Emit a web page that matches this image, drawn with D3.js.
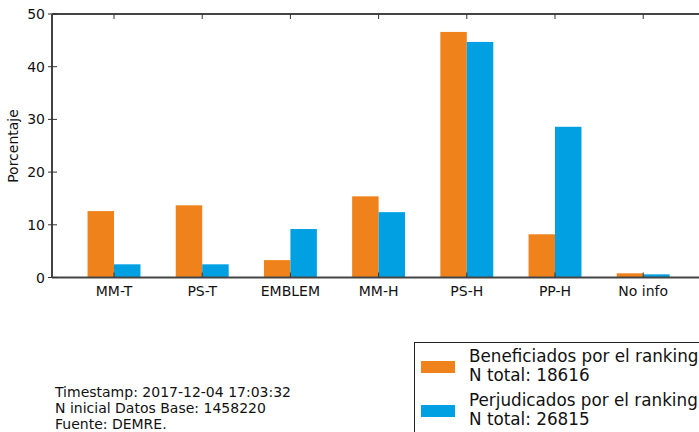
<!DOCTYPE html>
<html>
<head>
<meta charset="utf-8">
<script src="https://cdn.jsdelivr.net/npm/d3@7"></script>
<style>
  body { margin: 0; background: #fff; }
  svg { display: block; font-family: "DejaVu Sans", sans-serif; }
</style>
</head>
<body>
<svg id="chart" width="699" height="432"></svg>
<script>
// data
const categories = ["MM-T", "PS-T", "EMBLEM", "MM-H", "PS-H", "PP-H", "No info"];
const beneficiados = [12.6, 13.7, 3.3, 15.4, 46.6, 8.2, 0.8];
const perjudicados = [2.5, 2.5, 9.2, 12.4, 44.7, 28.6, 0.6];
const yTicks = [0, 10, 20, 30, 40, 50];
const legendLabels = [
  ["Beneficiados por el ranking", "N total: 18616"],
  ["Perjudicados por el ranking", "N total: 26815"]
];
const footer = [
  "Timestamp: 2017-12-04 17:03:32",
  "N inicial Datos Base: 1458220",
  "Fuente: DEMRE."
];

const colors = ["#f0821b", "#00a0e2"];
const svg = d3.select("#chart");

const plotLeft = 52, plotTop = 14, plotBottom = 277.5;
// category i sits at 114 + 88.2*i; plot runs past the right edge
const x = d3.scaleLinear().domain([-0.703, 7.0]).range([plotLeft, plotLeft + 7.703 * 88.2]);
const y = d3.scaleLinear().domain([0, 50]).range([plotBottom, plotTop]);
const barW = 0.3;

const series = [beneficiados, perjudicados];

series.forEach(function(vals, s) {
  svg.append("g")
    .selectAll("rect")
    .data(vals)
    .enter()
    .append("rect")
    .attr("x", function(d, i) { return x(i - barW + s * barW); })
    .attr("width", x(barW) - x(0))
    .attr("y", function(d) { return y(d); })
    .attr("height", function(d) { return y(0) - y(d); })
    .attr("fill", colors[s]);
});

// spines
const plotRight = x(7.0);
svg.append("path")
  .attr("d", "M" + plotLeft + "," + plotTop + "H" + plotRight +
             "M" + plotLeft + "," + plotTop + "V" + plotBottom +
             "M" + plotLeft + "," + plotBottom + "H" + plotRight)
  .attr("fill", "none")
  .attr("stroke", "#444")
  .attr("stroke-width", 2);

// y ticks (in and out)
const yt = svg.append("g");
yTicks.forEach(function(t) {
  yt.append("line")
    .attr("x1", plotLeft - 4).attr("x2", plotLeft + 5)
    .attr("y1", y(t)).attr("y2", y(t))
    .attr("stroke", "#333").attr("stroke-width", 1);
  yt.append("text")
    .attr("x", plotLeft - 7).attr("y", y(t))
    .attr("dy", "0.36em")
    .attr("text-anchor", "end")
    .attr("font-size", 14)
    .attr("fill", "#111")
    .text(t);
});

// x ticks, bottom and top, inward
const xt = svg.append("g");
categories.forEach(function(c, i) {
  xt.append("line")
    .attr("x1", x(i)).attr("x2", x(i))
    .attr("y1", plotBottom).attr("y2", plotBottom - 5)
    .attr("stroke", "#333").attr("stroke-width", 1);
  xt.append("line")
    .attr("x1", x(i)).attr("x2", x(i))
    .attr("y1", plotTop).attr("y2", plotTop + 5)
    .attr("stroke", "#333").attr("stroke-width", 1);
  xt.append("text")
    .attr("x", x(i)).attr("y", plotBottom + 18)
    .attr("text-anchor", "middle")
    .attr("font-size", 14)
    .attr("fill", "#111")
    .text(c);
});

svg.append("text")
  .attr("transform", "translate(18,146) rotate(-90)")
  .attr("text-anchor", "middle")
  .attr("font-size", 14)
  .attr("fill", "#111")
  .text("Porcentaje");

// legend
const lg = svg.append("g");
lg.append("rect")
  .attr("x", 414.5).attr("y", 342.5)
  .attr("width", 300).attr("height", 100)
  .attr("fill", "#fff")
  .attr("stroke", "#222").attr("stroke-width", 1);
legendLabels.forEach(function(lines, k) {
  const y0 = 361 + k * 44;
  lg.append("rect")
    .attr("x", 421).attr("y", y0)
    .attr("width", 34).attr("height", 12)
    .attr("fill", colors[k]);
  lines.forEach(function(t, j) {
    lg.append("text")
      .attr("x", 469).attr("y", y0 + 1 + j * 19)
      .attr("font-size", 16.8)
      .attr("fill", "#111")
      .text(t);
  });
});

// footer notes
footer.forEach(function(t, j) {
  svg.append("text")
    .attr("x", 55).attr("y", 397 + j * 16)
    .attr("font-size", 14)
    .attr("fill", "#111")
    .text(t);
});
</script>
</body>
</html>
